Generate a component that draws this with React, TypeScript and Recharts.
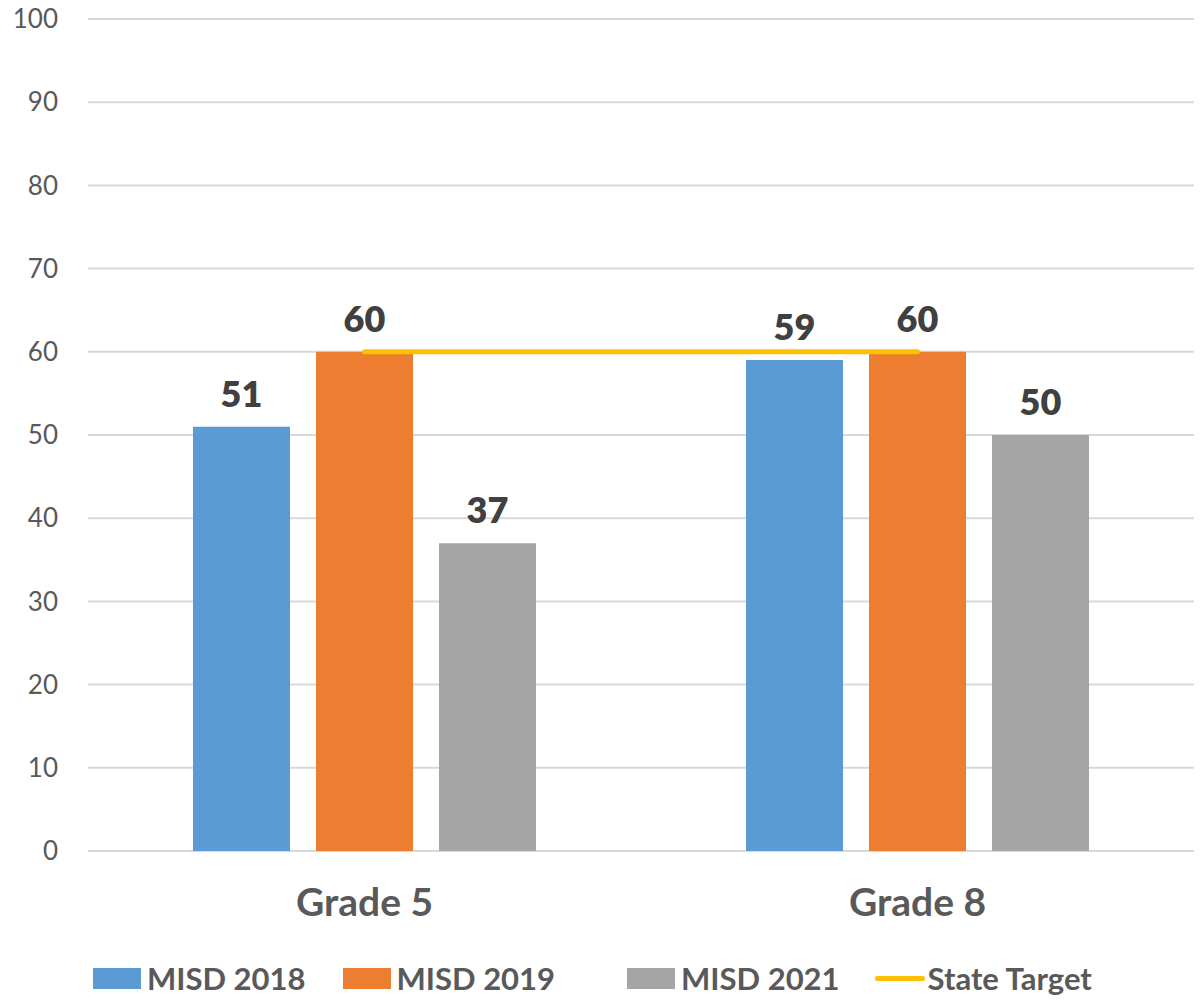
import React from "react";
import { ComposedChart, Bar, Line, XAxis, YAxis, CartesianGrid, Legend, LabelList } from "recharts";

const categories = ["Grade 5", "Grade 8"];
const misd2018 = [51, 59];
const misd2019 = [60, 60];
const misd2021 = [37, 50];
const stateTarget = [60, 60];
const yTicks = [0, 10, 20, 30, 40, 50, 60, 70, 80, 90, 100];

const data = categories.map((c, i) => ({
  name: c,
  m2018: misd2018[i],
  m2019: misd2019[i],
  m2021: misd2021[i],
  target: stateTarget[i],
}));

const FONT = "Lato, 'Open Sans', sans-serif";

const legendItems = [
  { label: "MISD 2018", color: "#5B9BD5", type: "rect", gap: 0 },
  { label: "MISD 2019", color: "#ED7D31", type: "rect", gap: 37 },
  { label: "MISD 2021", color: "#A5A5A5", type: "rect", gap: 72 },
  { label: "State Target", color: "#FFC000", type: "line", gap: 35 },
];

const CustomLegend = () => (
  <div style={{ display: "flex", justifyContent: "flex-start", alignItems: "center", height: 40, paddingLeft: 93, fontFamily: FONT, fontWeight: 700, fontSize: 31, color: "#595959" }}>
    {legendItems.map((it, i) => (
      <div key={i} style={{ display: "flex", alignItems: "center", marginLeft: it.gap }}>
        {it.type === "rect" ? (
          <div style={{ width: 48, height: 21, background: it.color, marginRight: 6 }} />
        ) : (
          <div style={{ width: 50, height: 5, borderRadius: 3, background: it.color, marginRight: 3 }} />
        )}
        <span>{it.label}</span>
      </div>
    ))}
  </div>
);

const XTick = (props: any) => {
  const { x, y, payload } = props;
  return (
    <text x={x} y={y + 57} textAnchor="middle" fontFamily={FONT} fontWeight={700} fontSize={39} fill="#595959">
      {payload.value}
    </text>
  );
};

export default function App() {
  return (
    <div style={{ position: "absolute", left: 0, top: 0, width: 1204, height: 1003, background: "#fff" }}>
      <ComposedChart width={1204} height={1003} data={data} margin={{ top: 19, right: 10, left: 0, bottom: 5 }} barGap={26}>
        <CartesianGrid vertical={false} stroke="#D9D9D9" strokeWidth={2} />
        <XAxis dataKey="name" axisLine={false} tickLine={false} height={107} tick={<XTick />} />
        <YAxis
          domain={[0, 100]}
          ticks={yTicks}
          width={88}
          axisLine={false}
          tickLine={false}
          interval={0}
          tick={{ fontFamily: FONT, fontSize: 26, fill: "#595959", dx: -22 }}
        />
        <Bar dataKey="m2018" name="MISD 2018" fill="#5B9BD5" barSize={97} isAnimationActive={false}>
          <LabelList dataKey="m2018" position="top" offset={20} fontFamily={FONT} fontWeight={800} fontSize={36} fill="#404040" />
        </Bar>
        <Bar dataKey="m2019" name="MISD 2019" fill="#ED7D31" barSize={97} isAnimationActive={false}>
          <LabelList dataKey="m2019" position="top" offset={20} fontFamily={FONT} fontWeight={800} fontSize={36} fill="#404040" />
        </Bar>
        <Bar dataKey="m2021" name="MISD 2021" fill="#A5A5A5" barSize={97} isAnimationActive={false}>
          <LabelList dataKey="m2021" position="top" offset={20} fontFamily={FONT} fontWeight={800} fontSize={36} fill="#404040" />
        </Bar>
        <Line dataKey="target" name="State Target" stroke="#FFC000" strokeWidth={5} strokeLinecap="round" dot={false} activeDot={false} isAnimationActive={false} />
        <Legend verticalAlign="bottom" height={40} content={<CustomLegend />} />
      </ComposedChart>
    </div>
  );
}
